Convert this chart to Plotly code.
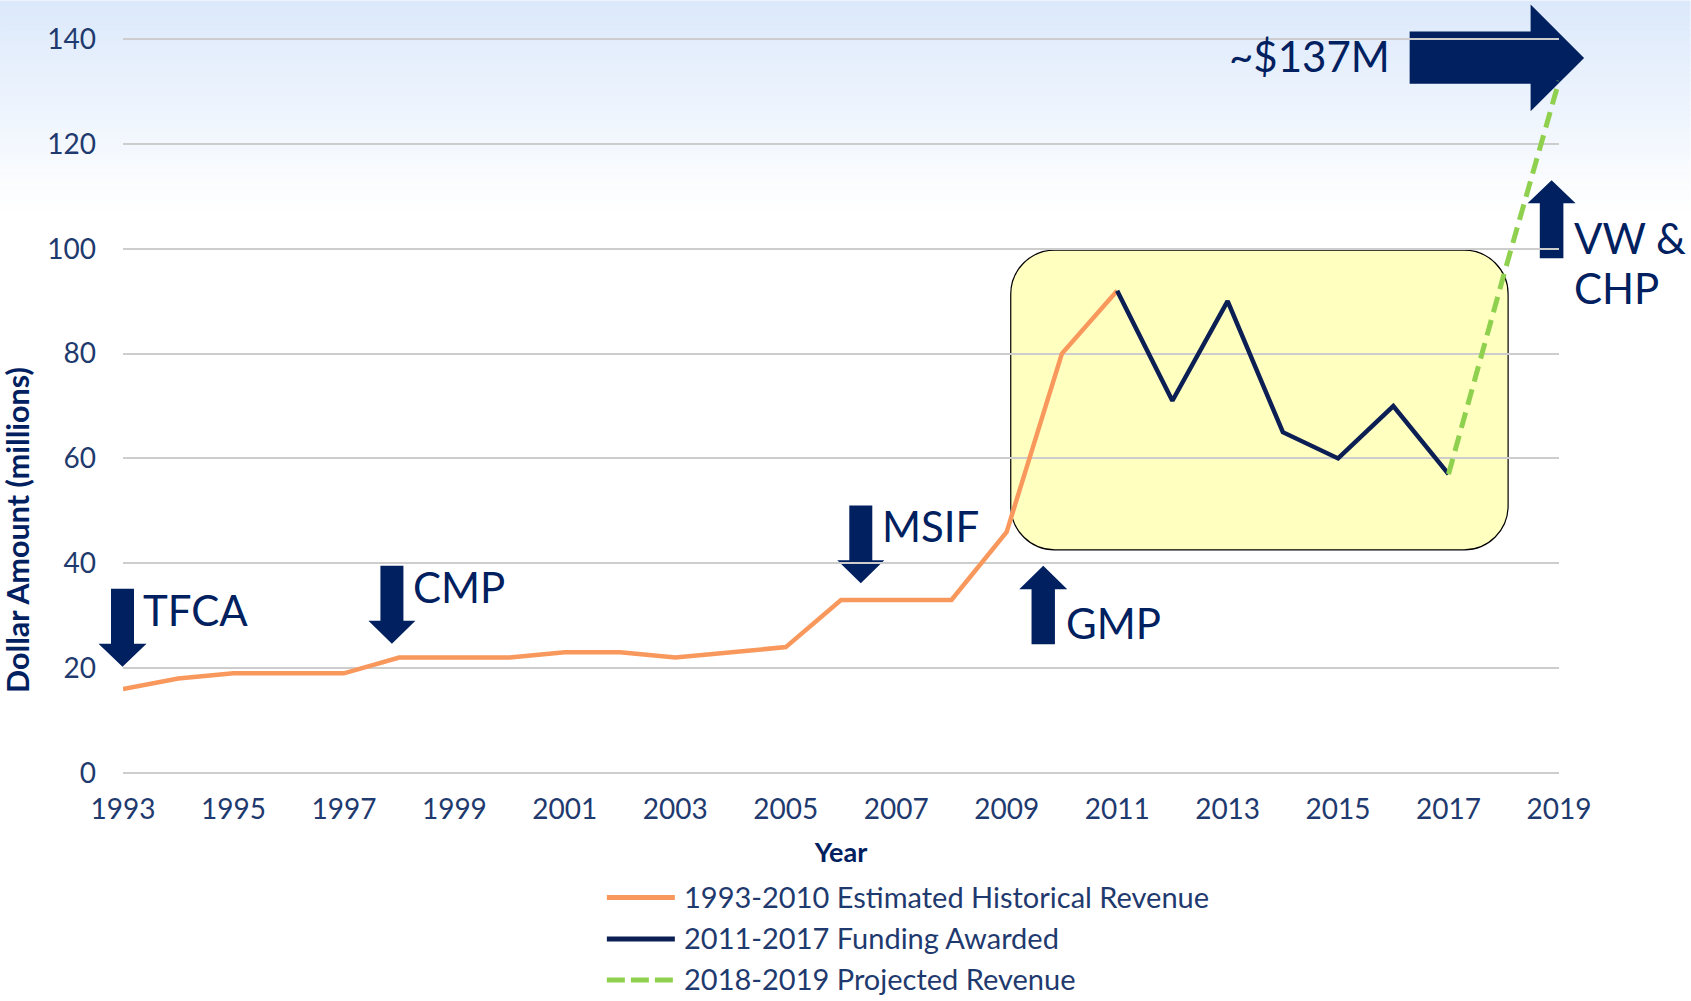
import plotly.graph_objects as go

# ---------------- data ----------------
hist_years = list(range(1993, 2012))
hist_values = [16, 18, 19, 19, 19, 22, 22, 22, 23, 23, 22, 23, 24, 33, 33, 33, 46, 80, 92]

award_years = list(range(2011, 2018))
award_values = [92, 71, 90, 65, 60, 70, 57]

proj_years = [2017, 2018, 2019]
proj_values = [57, 95, 132]

x_ticks = list(range(1993, 2020, 2))
y_ticks = [0, 20, 40, 60, 80, 100, 120, 140]

series_names = ["1993-2010 Estimated Historical Revenue",
                "2011-2017 Funding Awarded",
                "2018-2019 Projected Revenue"]
series_colors = ["#F8985C", "#0C1F55", "#8FD14F"]

# ---------------- layout constants (pixels on a 1691x1001 canvas) ----------------
W, H = 1691, 1001
ML, MR, MT, MB = 123, 131.6, 36.6, 225.6
PW, PH = W - ML - MR, H - MT - MB
Y_RANGE = [-0.4, 140.4]

NAVY = "#002060"
TEXT = "#1F3A6E"
FONT = "Lato"


def px(xp):
    return (xp - ML) / PW


def py(yp):
    return (H - MB - yp) / PH


def poly_path(points):
    return "M " + " L ".join(f"{px(a):.5f},{py(b):.5f}" for a, b in points) + " Z"


def down_arrow(cx, ys, yh, yt, sw, hw):
    return [(cx - sw, ys), (cx + sw, ys), (cx + sw, yh), (cx + hw, yh),
            (cx, yt), (cx - hw, yh), (cx - sw, yh)]


def right_arrow(x0, xh, xt, y0, y1, hy0, hy1):
    yc = (hy0 + hy1) / 2
    return [(x0, y0), (xh, y0), (xh, hy0), (xt, yc), (xh, hy1), (xh, y1), (x0, y1)]


def rounded_rect(x0, y0, x1, y1, r):
    k = 0.5523 * r

    def P(a, b):
        return f"{px(a):.5f},{py(b):.5f}"
    return (f"M {P(x0 + r, y0)} L {P(x1 - r, y0)} "
            f"C {P(x1 - r + k, y0)} {P(x1, y0 + r - k)} {P(x1, y0 + r)} "
            f"L {P(x1, y1 - r)} "
            f"C {P(x1, y1 - r + k)} {P(x1 - r + k, y1)} {P(x1 - r, y1)} "
            f"L {P(x0 + r, y1)} "
            f"C {P(x0 + r - k, y1)} {P(x0, y1 - r + k)} {P(x0, y1 - r)} "
            f"L {P(x0, y0 + r)} "
            f"C {P(x0, y0 + r - k)} {P(x0 + r - k, y0)} {P(x0 + r, y0)} Z")


shapes = []

# background gradient (light blue at top fading to white)
top_rgb = (220, 233, 251)
grad_h = 215
nb = 43
for i in range(nb):
    t = i / (nb - 1)
    c = tuple(int(round(top_rgb[j] + (255 - top_rgb[j]) * t)) for j in range(3))
    y0p = i * grad_h / nb
    y1p = (i + 1) * grad_h / nb + 0.6
    shapes.append(dict(type="rect", xref="paper", yref="paper", layer="below",
                       x0=px(0), x1=px(W), y0=py(y1p), y1=py(y0p),
                       fillcolor=f"rgb{c}", line=dict(width=0)))

# highlight box
shapes.append(dict(type="path", xref="paper", yref="paper", layer="below",
                   path=rounded_rect(1011, 250, 1508.5, 550, 44),
                   fillcolor="#FFFFC0", line=dict(color="#000000", width=1.2)))

# arrows
arrow_polys = [
    down_arrow(122.5, 589, 644, 667, 11.5, 24),        # TFCA
    down_arrow(392, 566, 621, 644, 11.5, 23.5),        # CMP
    down_arrow(861, 505.5, 560.5, 583.5, 11.5, 23.5),  # MSIF
    down_arrow(1043.5, 644.5, 589.5, 566, 11.7, 24),   # GMP (up)
    down_arrow(1552, 258, 203, 180, 11.8, 24),         # VW & CHP (up)
    right_arrow(1410, 1531, 1584.5, 31, 83.5, 4, 111),  # ~$137M
]
for pts in arrow_polys:
    shapes.append(dict(type="path", xref="paper", yref="paper", layer="below",
                       path=poly_path(pts), fillcolor=NAVY, line=dict(width=0)))

# text labels
label_specs = [
    ("TFCA", 141, 610, "left"),
    ("CMP", 411, 587, "left"),
    ("MSIF", 880, 526, "left"),
    ("GMP", 1064, 623, "left"),
    ("~$137M", 1392, 56, "right"),
    ("VW &", 1572, 238, "left"),
    ("CHP", 1572, 288, "left"),
]
annotations = []
for txt, xx, yy, anc in label_specs:
    annotations.append(dict(text=txt, xref="paper", yref="paper", x=px(xx), y=py(yy),
                            xanchor=anc, yanchor="middle", showarrow=False,
                            font=dict(family=FONT, size=42, color=NAVY)))

annotations.append(dict(text="<b>Dollar Amount (millions)</b>", xref="paper", yref="paper",
                        x=px(17), y=py(530), xanchor="center", yanchor="middle",
                        textangle=-90, showarrow=False,
                        font=dict(family=FONT, size=30.5, color=NAVY)))

# custom legend (long line samples like the reference)
legend_rows_y = [898, 939.5, 980.5]
legend_line_x = (607, 675)
for name, color, yy, dash in zip(series_names, series_colors, legend_rows_y,
                                 ["solid", "solid", "18px,6px"]):
    shapes.append(dict(type="line", xref="paper", yref="paper", layer="above",
                       x0=px(legend_line_x[0]), x1=px(legend_line_x[1]), y0=py(yy), y1=py(yy),
                       line=dict(color=color, width=5, dash=dash)))
    annotations.append(dict(text=name, xref="paper", yref="paper", x=px(682), y=py(yy - 1),
                            xanchor="left", yanchor="middle", showarrow=False,
                            font=dict(family=FONT, size=29, color=TEXT)))

# ---------------- figure ----------------
fig = go.Figure()
fig.add_trace(go.Scatter(x=hist_years, y=hist_values, mode="lines", name=series_names[0],
                         line=dict(color=series_colors[0], width=4.5)))
fig.add_trace(go.Scatter(x=award_years, y=award_values, mode="lines", name=series_names[1],
                         line=dict(color=series_colors[1], width=4.5)))
fig.add_trace(go.Scatter(x=proj_years, y=proj_values, mode="lines", name=series_names[2],
                         line=dict(color=series_colors[2], width=5, dash="16px,8px")))

fig.update_layout(
    width=W, height=H,
    margin=dict(l=ML, r=MR, t=MT, b=MB, pad=0, autoexpand=False),
    paper_bgcolor="white",
    plot_bgcolor="rgba(0,0,0,0)",
    font=dict(family=FONT, color=TEXT),
    shapes=shapes,
    annotations=annotations,
    showlegend=False,
    xaxis=dict(range=[1993, 2019], tickvals=x_ticks, ticktext=[str(v) for v in x_ticks],
               showgrid=False, zeroline=False, showline=False, ticks="",
               tickfont=dict(family=FONT, size=28, color=TEXT),
               ticklabelstandoff=15,
               title=dict(text="<b>Year</b>", font=dict(family=FONT, size=27, color=NAVY),
                          standoff=19),
               fixedrange=True),
    yaxis=dict(range=Y_RANGE, tickvals=y_ticks, ticktext=[str(v) for v in y_ticks],
               showgrid=True, gridcolor="#CDCDCD", gridwidth=2,
               zeroline=False, showline=False, ticks="",
               tickfont=dict(family=FONT, size=28, color=TEXT),
               ticklabelstandoff=26,
               fixedrange=True),
)

fig.write_html("out.html", config={"displayModeBar": False},
               post_script="document.body.style.margin='0';document.body.style.overflow='hidden';")
